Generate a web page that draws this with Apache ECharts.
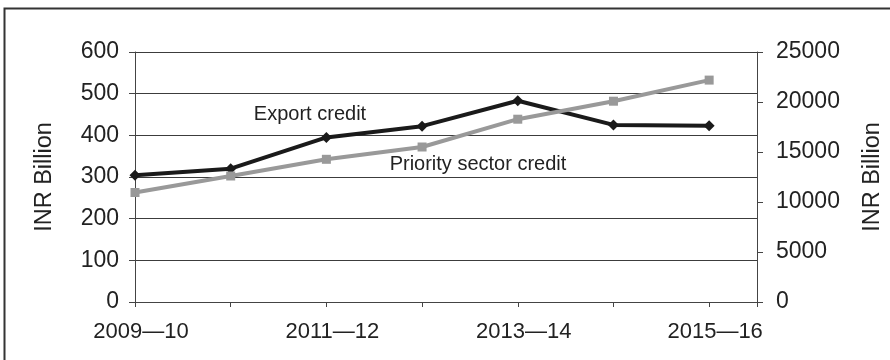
<!DOCTYPE html>
<html>
<head>
<meta charset="utf-8">
<script src="https://cdn.jsdelivr.net/npm/echarts@6/dist/echarts.min.js"></script>
<style>
  html, body { margin: 0; padding: 0; background: #fff; }
  #chart { width: 890px; height: 360px; }
</style>
</head>
<body>
<div id="chart"></div>
<script>
// data
var years = ['2009\u201410', '2010\u201411', '2011\u201412', '2012\u201413', '2013\u201414', '2014\u201415', '2015\u201416'];
var exportCredit = [304, 320, 395, 422, 483, 425, 423];            // left axis
var prioritySectorCredit = [10950, 12600, 14270, 15500, 18280, 20080, 22190]; // right axis
var leftTicks = { min: 0, max: 600, interval: 100 };
var rightTicks = { min: 0, max: 25000, interval: 5000 };

var chart = echarts.init(document.getElementById('chart'));

var font = 'Liberation Sans, Arial, sans-serif';
var axisColor = '#444';

function pairs(arr) {
  return arr.map(function (v, i) { return [i, v]; });
}

var option = {
  animation: false,
  backgroundColor: '#fff',
  grid: {
    left: 135,
    right: 133,
    top: 52,
    bottom: 58,
    containLabel: false,
    outerBoundsMode: 'none'
  },
  xAxis: {
    type: 'value',
    min: 0,
    max: years.length - 0.5,
    interval: 1,
    axisLine: { show: true, lineStyle: { color: axisColor, width: 1 } },
    axisTick: { show: true, length: 5, lineStyle: { color: axisColor } },
    splitLine: { show: false },
    axisLabel: {
      color: '#222',
      fontFamily: font,
      fontSize: 22,
      margin: 19,
      padding: [0, 0, 0, 12],
      showMinLabel: true,
      showMaxLabel: true,
      formatter: function (v) {
        if (Number.isInteger(v) && v % 2 === 0) return years[v];
        return '';
      }
    }
  },
  yAxis: [{
    type: 'value',
    position: 'left',
    min: leftTicks.min,
    max: leftTicks.max,
    interval: leftTicks.interval,
    name: 'INR Billion',
    nameLocation: 'middle',
    nameRotate: 90,
    nameGap: 78,
    nameTextStyle: { color: '#222', fontFamily: font, fontSize: 23.5 },
    axisLine: { show: true, lineStyle: { color: axisColor } },
    axisTick: { show: true, length: 6, lineStyle: { color: axisColor } },
    axisLabel: { color: '#222', fontFamily: font, fontSize: 23, margin: 16 },
    splitLine: { show: true, lineStyle: { color: '#3c3c3c', width: 1 } }
  }, {
    type: 'value',
    position: 'right',
    min: rightTicks.min,
    max: rightTicks.max,
    interval: rightTicks.interval,
    name: 'INR Billion',
    nameLocation: 'middle',
    nameRotate: 90,
    nameGap: 104,
    nameTextStyle: { color: '#222', fontFamily: font, fontSize: 23.5 },
    axisLine: { show: true, lineStyle: { color: axisColor } },
    axisTick: { show: true, length: 6, lineStyle: { color: axisColor } },
    axisLabel: {
      color: '#222', fontFamily: font, fontSize: 23, margin: 19,
      formatter: function (v) { return String(v); }
    },
    splitLine: { show: false }
  }],
  series: [{
    name: 'Export credit',
    type: 'line',
    yAxisIndex: 0,
    data: pairs(exportCredit),
    symbol: 'diamond',
    symbolSize: 11,
    showAllSymbol: true,
    lineStyle: { color: '#1a1a1a', width: 4 },
    itemStyle: { color: '#1a1a1a' },
    z: 3
  }, {
    name: 'Priority sector credit',
    type: 'line',
    yAxisIndex: 1,
    data: pairs(prioritySectorCredit),
    symbol: 'rect',
    symbolSize: 9,
    showAllSymbol: true,
    lineStyle: { color: '#999', width: 4 },
    itemStyle: { color: '#999' },
    z: 4
  }],
  graphic: [{
    type: 'rect',
    silent: true,
    shape: { x: 4.5, y: 8.5, width: 900, height: 400 },
    style: { fill: 'none', stroke: '#333', lineWidth: 2 }
  }, {
    type: 'text',
    x: 310,
    y: 114,
    style: {
      text: 'Export credit',
      fill: '#222',
      font: '20px ' + font,
      textAlign: 'center',
      textVerticalAlign: 'middle'
    }
  }, {
    type: 'text',
    x: 478,
    y: 164,
    style: {
      text: 'Priority sector credit',
      fill: '#222',
      font: '20px ' + font,
      textAlign: 'center',
      textVerticalAlign: 'middle'
    }
  }]
};

chart.setOption(option);
</script>
</body>
</html>
